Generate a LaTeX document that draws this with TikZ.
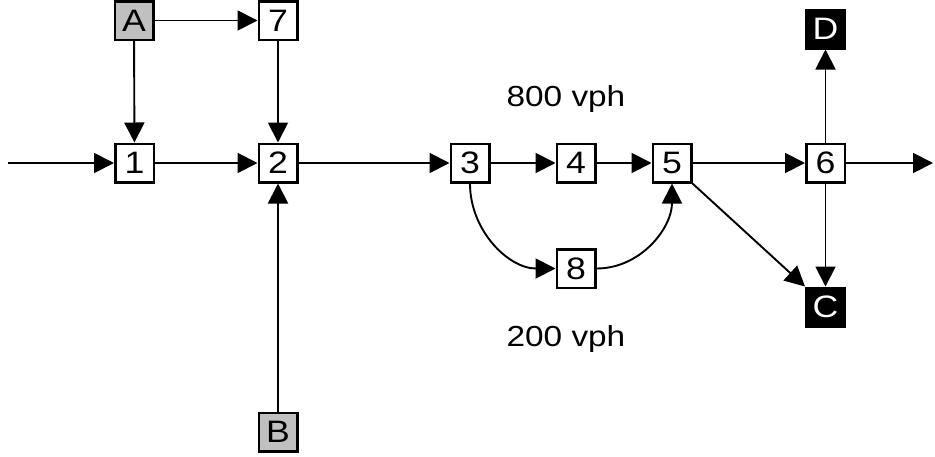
\documentclass[tikz,border=0pt]{standalone}
\usepackage{fontspec}
\setmainfont[FakeStretch=1.15]{Liberation Sans}
\usetikzlibrary{arrows.meta}
\definecolor{boxgray}{RGB}{192,192,192}
\begin{document}
\begin{tikzpicture}[x=1pt,y=-1pt,
  box/.style={draw, line width=2.5pt, minimum width=38.5pt, minimum height=38.5pt, inner sep=0pt,
              font=\fontsize{31}{31}\selectfont, fill=white},
  gbox/.style={box, fill=boxgray},
  bbox/.style={box, fill=black, text=white},
  arr/.style={line width=1.9pt, -{Triangle[length=20pt,width=20pt]}},
  lbl/.style={font=\fontsize{29}{29}\selectfont, anchor=base}]
\fill[white] (0,0) rectangle (935,456);
\useasboundingbox (0,0) rectangle (935,456);
\node[gbox] (A) at (134,20.5) {A};
\node[box] (n7) at (278,20.5) {7};
\node[box] (n1) at (134.5,163) {1};
\node[box] (n2) at (278,163) {2};
\node[box] (n3) at (470,163) {3};
\node[box] (n4) at (576,163) {4};
\node[box] (n5) at (672,163) {5};
\node[box] (n6) at (825.5,163) {6};
\node[box] (n8) at (576,268.5) {8};
\node[gbox] (B) at (278,432) {B};
\node[bbox] (D) at (825.5,29) {D};
\node[bbox] (C) at (825.5,307) {C};
\coordinate (in) at (8,163);
\coordinate (out) at (933,163);
\node[lbl] (l800) at (566,106) {800 vph};
\node[lbl] (l200) at (566,346) {200 vph};
\draw[arr] (in) -- (n1);
\draw[arr] (n1) -- (n2);
\draw[arr] (A) -- (n7);
\draw[arr] (A) -- (n1);
\draw[arr] (n7) -- (n2);
\draw[arr] (B) -- (n2);
\draw[arr] (n2) -- (n3);
\draw[arr] (n3) -- (n4);
\draw[arr] (n4) -- (n5);
\draw[arr] (n5) -- (n6);
\draw[arr] (n6) -- (out);
\draw[arr] (n6) -- (D);
\draw[arr] (n6) -- (C);
\draw[arr] (n5.south east) -- (C.north west);
\draw[arr] (n3.south) to[out=-90,in=180] (n8.west);
\draw[arr] (n8.east) to[out=0,in=-90] (n5.south);
\end{tikzpicture}
\end{document}
